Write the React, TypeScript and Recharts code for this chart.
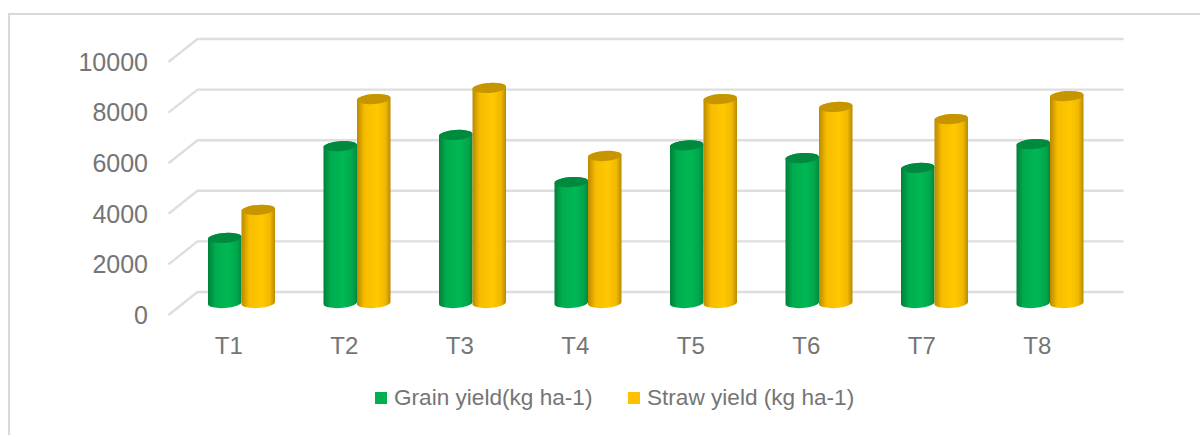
import { BarChart, Bar, XAxis, YAxis, CartesianGrid, Legend } from "recharts";

const categories = ["T1", "T2", "T3", "T4", "T5", "T6", "T7", "T8"];
const grainYield = [2570, 6200, 6640, 4780, 6230, 5730, 5340, 6280];
const strawYield = [3680, 8060, 8500, 5810, 8060, 7750, 7270, 8180];
const yTicks = [0, 2000, 4000, 6000, 8000, 10000];

const GRAIN_NAME = "Grain yield(kg ha-1)";
const STRAW_NAME = "Straw yield (kg ha-1)";
const TEXT_COLOR = "#757575";
const FONT = "'Liberation Sans', sans-serif";

const data = categories.map((name, i) => ({
  name,
  grain: grainYield[i],
  straw: strawYield[i]
}));

// wall line: front corner down-left, then back along the wall
const PerspectiveGridLine = (props: any) => {
  const { x1, x2, y1 } = props;
  return (
    <path
      d={`M${x1 - 15.5},${y1 + 12} L${x1 + 13.5},${y1 - 11} L${x2 + 15.5},${y1 - 11}`}
      fill='none'
      stroke='#dedede'
      strokeWidth={2.4}
    />
  );
};

const TILT = 4;

const Cylinder = (props: any) => {
  const { x, y, width, height, gradient, capColor } = props;
  const rx = width / 2;
  const ry = 5;
  const skew = rx * Math.tan((TILT * Math.PI) / 180);
  const base = y + height;
  const body =
    `M${x},${y + skew} L${x},${base + skew} ` +
    `A${rx},${ry} ${-TILT} 0 0 ${x + width},${base - skew} ` +
    `L${x + width},${y - skew} ` +
    `A${rx},${ry} ${-TILT} 0 0 ${x},${y + skew} Z`;
  return (
    <g>
      <path d={body} fill={`url(#${gradient})`} />
      <ellipse
        cx={x + rx}
        cy={y}
        rx={rx}
        ry={ry}
        fill={capColor}
        transform={`rotate(${-TILT} ${x + rx} ${y})`}
      />
    </g>
  );
};

const LegendContent = ({ payload }: any) => (
  <div
    style={{
      height: 30,
      position: "relative",
      fontFamily: FONT,
      fontSize: 22.6,
      color: TEXT_COLOR
    }}
  >
    {(payload || []).map((entry: any, i: number) => (
      <div
        key={entry.value}
        style={{
          position: "absolute",
          left: i === 0 ? 375 : 628,
          top: 0,
          display: "flex",
          alignItems: "center",
          gap: 7,
          height: 30,
          whiteSpace: "nowrap"
        }}
      >
        <span style={{ width: 12, height: 12, background: entry.color }} />
        <span>{entry.value}</span>
      </div>
    ))}
  </div>
);

const App = () => {
  return (
    <div
      style={{
        position: "absolute",
        left: 0,
        top: 0,
        width: 1200,
        height: 435,
        overflow: "hidden",
        background: "#fff"
      }}
    >
      <div
        style={{
          position: "absolute",
          left: 8,
          top: 13,
          width: 1200,
          height: 440,
          borderLeft: "2px solid #d9d9d9",
          borderTop: "2px solid #d9d9d9"
        }}
      />
      <BarChart
        width={1200}
        height={435}
        data={data}
        barSize={33.5}
        barGap={0}
        margin={{ top: 50, right: 92, left: 64, bottom: 42 }}
        style={{ position: "absolute", left: 0, top: 0 }}
      >
        <defs>
          <linearGradient id='grainSide' x1='0' x2='1' y1='0' y2='0'>
            <stop offset='0' stopColor='#007F3A' />
            <stop offset='0.22' stopColor='#00AC4E' />
            <stop offset='0.6' stopColor='#00B854' />
            <stop offset='0.85' stopColor='#00A84C' />
            <stop offset='1' stopColor='#008A40' />
          </linearGradient>
          <linearGradient id='strawSide' x1='0' x2='1' y1='0' y2='0'>
            <stop offset='0' stopColor='#B88A00' />
            <stop offset='0.22' stopColor='#F7BC00' />
            <stop offset='0.6' stopColor='#FFC800' />
            <stop offset='0.85' stopColor='#F0B800' />
            <stop offset='1' stopColor='#B88A00' />
          </linearGradient>
        </defs>
        <CartesianGrid vertical={false} horizontal={PerspectiveGridLine as any} />
        <XAxis
          dataKey='name'
          height={60}
          axisLine={false}
          tickLine={false}
          tickMargin={28}
          tick={{ fill: TEXT_COLOR, fontSize: 24, fontFamily: FONT, dx: -13 }}
        />
        <YAxis
          width={120}
          domain={[0, 10000]}
          ticks={yTicks}
          axisLine={false}
          tickLine={false}
          tickMargin={30}
          tick={{ fill: TEXT_COLOR, fontSize: 25, fontFamily: FONT, dy: 12 }}
        />
        <Legend
          content={<LegendContent />}
          wrapperStyle={{ left: 0, top: 383, width: 1200 }}
        />
        <Bar
          dataKey='grain'
          name={GRAIN_NAME}
          fill='#00B050'
          isAnimationActive={false}
          shape={(p: any) => <Cylinder {...p} gradient='grainSide' capColor='#008A40' />}
        />
        <Bar
          dataKey='straw'
          name={STRAW_NAME}
          fill='#FFC000'
          isAnimationActive={false}
          shape={(p: any) => <Cylinder {...p} gradient='strawSide' capColor='#C69500' />}
        />
      </BarChart>
    </div>
  );
};

export default App;
